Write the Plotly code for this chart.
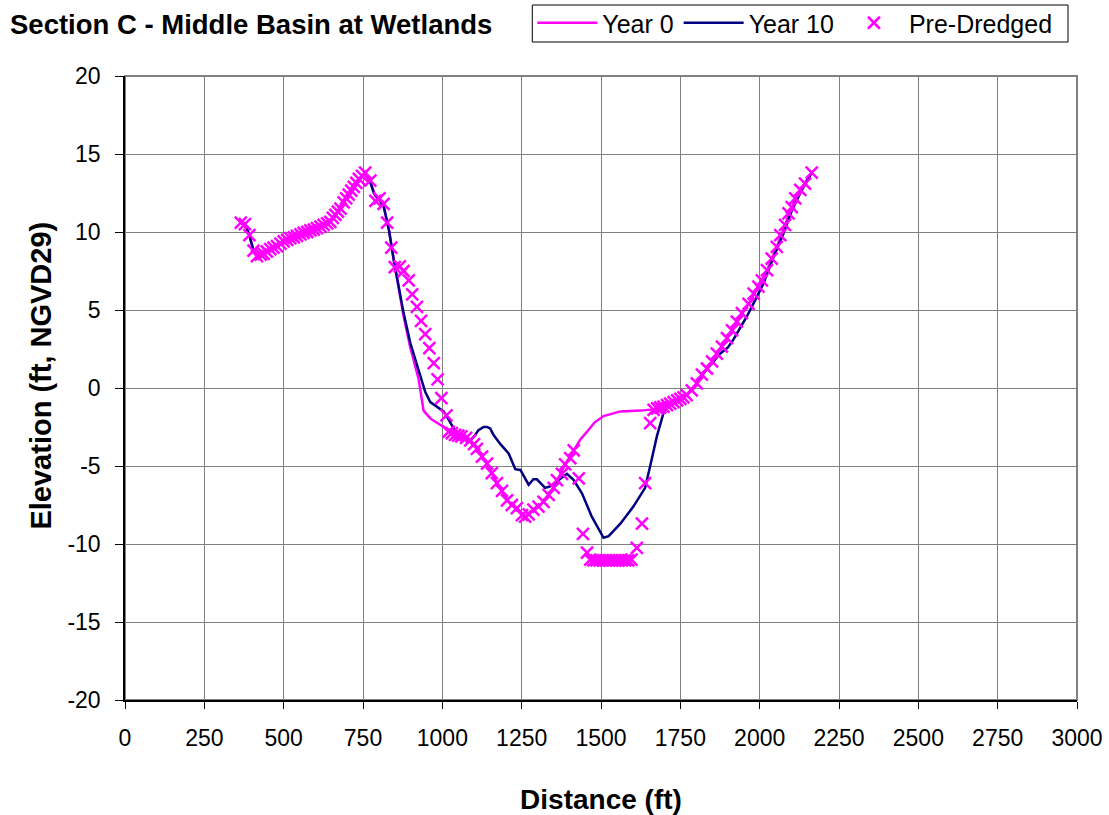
import plotly.graph_objects as go

# Pre-Dredged survey points
pre_x = [365, 378, 392, 405, 416, 428, 437, 447, 458, 468, 479, 490, 500, 511, 521, 532, 542, 553, 563, 574,
         584, 595, 605, 616, 626, 637, 647, 655, 663, 671, 679, 689, 697, 705, 713, 721, 729, 737, 747, 757,
         773, 789, 802, 815, 826, 839, 850, 866, 878, 894, 905, 920, 933, 946, 959, 973, 985, 997, 1013, 1020,
         1030, 1040, 1050, 1060, 1075, 1088, 1100, 1109, 1125, 1141, 1156, 1172, 1188, 1204, 1219, 1235, 1251, 1261, 1272, 1287,
         1303, 1319, 1335, 1351, 1361, 1377, 1387, 1403, 1414, 1430, 1443, 1456, 1466, 1476, 1486, 1496, 1506, 1516, 1526, 1536,
         1546, 1556, 1566, 1576, 1586, 1596, 1613, 1629, 1639, 1655, 1666, 1677, 1687, 1697, 1708, 1718, 1729, 1740, 1750, 1760,
         1770, 1786, 1802, 1818, 1834, 1850, 1865, 1881, 1897, 1913, 1928, 1944, 1965, 1981, 1996, 2007, 2023, 2038, 2054, 2065,
         2080, 2091, 2101, 2112, 2128, 2143, 2164]
pre_y = [10.6, 10.5, 9.8, 8.8, 8.45, 8.55, 8.6, 8.75, 8.9, 9.0, 9.1, 9.25, 9.4, 9.5, 9.6, 9.65, 9.75, 9.85, 9.95, 10.0,
         10.1, 10.15, 10.25, 10.35, 10.45, 10.55, 10.65, 10.9, 11.1, 11.3, 11.5, 11.9, 12.15, 12.4, 12.65, 12.9, 13.15, 13.4, 13.6, 13.8,
         13.3, 12.0, 12.15, 11.8, 10.6, 9.0, 7.75, 7.8, 7.5, 6.9, 6.0, 5.2, 4.3, 3.45, 2.55, 1.6, 0.55, -0.65, -1.75, -2.8,
         -2.9, -3.0, -3.05, -3.1, -3.2, -3.35, -3.6, -3.9, -4.4, -4.85, -5.45, -6.1, -6.6, -7.2, -7.5, -7.7, -8.15, -8.25, -8.1, -7.8,
         -7.6, -7.3, -6.85, -6.4, -5.9, -5.5, -4.9, -4.5, -4.0, -5.8, -9.35, -10.55, -11.0, -11.05, -11.05, -11.05, -11.05, -11.05, -11.05, -11.05,
         -11.05, -11.05, -11.05, -11.05, -11.05, -11.0, -10.25, -8.7, -6.1, -2.25, -1.4, -1.3, -1.25, -1.2, -1.1, -1.0, -0.9, -0.8, -0.7, -0.6,
         -0.45, -0.15, 0.3, 0.85, 1.25, 1.7, 2.2, 2.65, 3.2, 3.7, 4.25, 4.8, 5.4, 6.05, 6.5, 6.9, 7.55, 8.3, 9.05, 9.8,
         10.45, 11.2, 11.6, 12.15, 12.7, 13.1, 13.8]

# Year 0 profile
y0_x = [365, 378, 392, 405, 416, 458, 500, 542, 584, 626, 647, 663, 689, 721, 757, 773, 789, 802, 815, 832,
        847, 862, 878, 899, 925, 941, 962, 973, 1004, 1015, 1036, 1060, 1088, 1109, 1141, 1172, 1204, 1235, 1261, 1287,
        1319, 1351, 1387, 1414, 1435, 1456, 1480, 1508, 1561, 1624, 1666, 1697, 1729, 1770, 1802, 1834, 1865, 1897, 1928, 1965,
        1996, 2023, 2054, 2080, 2101, 2128, 2164]
y0_y = [10.6, 10.5, 9.8, 8.8, 8.45, 8.9, 9.4, 9.75, 10.1, 10.45, 10.65, 11.1, 11.9, 12.9, 13.8, 13.2, 12.3, 12.1, 11.6, 10.1,
        8.2, 6.5, 4.6, 2.6, 0.6, -1.45, -1.95, -2.1, -2.5, -2.7, -2.9, -3.1, -3.35, -3.9, -4.85, -6.1, -7.2, -7.7, -8.25, -7.8,
        -7.3, -6.4, -4.9, -4.0, -3.3, -2.8, -2.2, -1.8, -1.5, -1.45, -1.37, -1.2, -0.9, -0.45, 0.3, 1.25, 2.2, 3.2, 4.25, 5.4,
        6.5, 7.55, 9.05, 10.45, 11.6, 12.7, 13.8]

# Year 10 profile
y10_x = [365, 378, 392, 405, 416, 458, 500, 542, 584, 626, 647, 663, 689, 721, 757, 773, 784, 800, 816, 832,
         847, 862, 878, 899, 925, 946, 962, 983, 1004, 1015, 1036, 1060, 1083, 1100, 1114, 1130, 1141, 1151, 1161, 1183,
         1209, 1230, 1246, 1272, 1287, 1298, 1324, 1340, 1361, 1393, 1414, 1440, 1471, 1508, 1524, 1561, 1602, 1639, 1655, 1676,
         1697, 1708, 1729, 1750, 1770, 1800, 1823, 1850, 1875, 1900, 1917, 1940, 1960, 1985, 2012, 2040, 2075, 2100, 2128, 2150,
         2164]
y10_y = [10.6, 10.5, 9.8, 8.8, 8.45, 8.9, 9.4, 9.75, 10.1, 10.45, 10.65, 11.1, 11.9, 12.9, 13.8, 13.2, 12.5, 12.1, 11.6, 10.1,
         8.2, 6.5, 4.8, 2.9, 1.15, -0.25, -0.9, -1.2, -1.5, -1.85, -2.6, -3.1, -3.45, -3.1, -2.7, -2.5, -2.5, -2.6, -3.0, -3.6,
         -4.2, -5.2, -5.25, -6.2, -5.85, -5.85, -6.4, -6.3, -6.0, -5.5, -5.9, -6.75, -8.25, -9.6, -9.5, -8.7, -7.6, -6.4, -5.0, -3.1,
         -1.6, -1.2, -1.0, -0.8, -0.45, 0.2, 0.94, 1.6, 2.2, 2.6, 3.1, 3.9, 4.6, 5.6, 6.7, 8.2, 9.9, 11.3, 12.5, 13.3,
         13.8]

x_ticks = [0, 250, 500, 750, 1000, 1250, 1500, 1750, 2000, 2250, 2500, 2750, 3000]
y_ticks = [-20, -15, -10, -5, 0, 5, 10, 15, 20]

FONT = "Liberation Sans, Arial, sans-serif"

# plot area in pixels
L, R, T, B = 124.5, 1077, 76, 700
PW, PH = R - L, B - T


def px_x(p):
    return (p - L) / PW


def px_y(p):
    return (B - p) / PH


fig = go.Figure()
fig.add_trace(go.Scatter(x=y0_x, y=y0_y, mode="lines", name="Year 0",
                         line=dict(color="#FF00FF", width=2.5)))
fig.add_trace(go.Scatter(x=y10_x, y=y10_y, mode="lines", name="Year 10",
                         line=dict(color="#000080", width=2.5)))
fig.add_trace(go.Scatter(x=pre_x, y=pre_y, mode="markers", name="Pre-Dredged",
                         marker=dict(symbol="x-thin", size=12, color="#FF00FF",
                                     line=dict(color="#FF00FF", width=2.5))))

fig.update_layout(
    width=1109, height=815,
    margin=dict(l=L, r=1109 - R, t=T, b=815 - B, autoexpand=False),
    paper_bgcolor="white", plot_bgcolor="white",
    font=dict(family=FONT, size=23, color="black"),
    title=dict(text="<b>Section C - Middle Basin at Wetlands</b>", x=10/1109, xanchor="left",
               y=1 - 24/815, yanchor="middle", font=dict(family=FONT, size=27.5, color="black")),
    showlegend=True,
    legend=dict(orientation="h", x=px_x(532), xanchor="left",
                y=px_y(0), yanchor="top",
                borderwidth=0, bgcolor="rgba(0,0,0,0)",
                font=dict(family=FONT, size=25), itemwidth=60, tracegroupgap=0),
    xaxis=dict(range=[0, 3000], tickvals=x_ticks, ticktext=[str(v) for v in x_ticks],
               showgrid=True, gridcolor="#808080", gridwidth=1,
               showline=True, linecolor="black", linewidth=1.5, mirror=False,
               ticks="outside", ticklen=7, tickcolor="black", zeroline=False,
               ticklabelstandoff=10,
               title=dict(text="<b>Distance (ft)</b>", font=dict(family=FONT, size=28), standoff=40),
               tickfont=dict(family=FONT, size=23)),
    yaxis=dict(range=[-20, 20], tickvals=y_ticks, ticktext=[str(v) for v in y_ticks],
               showgrid=True, gridcolor="#808080", gridwidth=1,
               showline=True, linecolor="black", linewidth=1.5, mirror=False,
               ticks="outside", ticklen=8, tickcolor="black", zeroline=False,
               ticklabelstandoff=10,
               tickfont=dict(family=FONT, size=23)),
)
# y-axis title (placed slightly above the axis centre as in the original)
fig.add_annotation(text="<b>Elevation (ft, NGVD29)</b>", textangle=-90,
                   xref="paper", yref="paper", x=px_x(40), y=px_y(376),
                   xanchor="center", yanchor="middle", showarrow=False,
                   font=dict(family=FONT, size=29, color="black"))
# gray plot-area frame on top and right
fig.add_shape(type="rect", xref="paper", yref="paper", x0=0, y0=0, x1=1, y1=1,
              line=dict(color="#808080", width=2), layer="below")
# legend frame
fig.add_shape(type="rect", xref="paper", yref="paper", x0=px_x(532), x1=px_x(1068),
              y0=px_y(42), y1=px_y(5), line=dict(color="black", width=1), layer="below")

fig.write_html("out.html")
